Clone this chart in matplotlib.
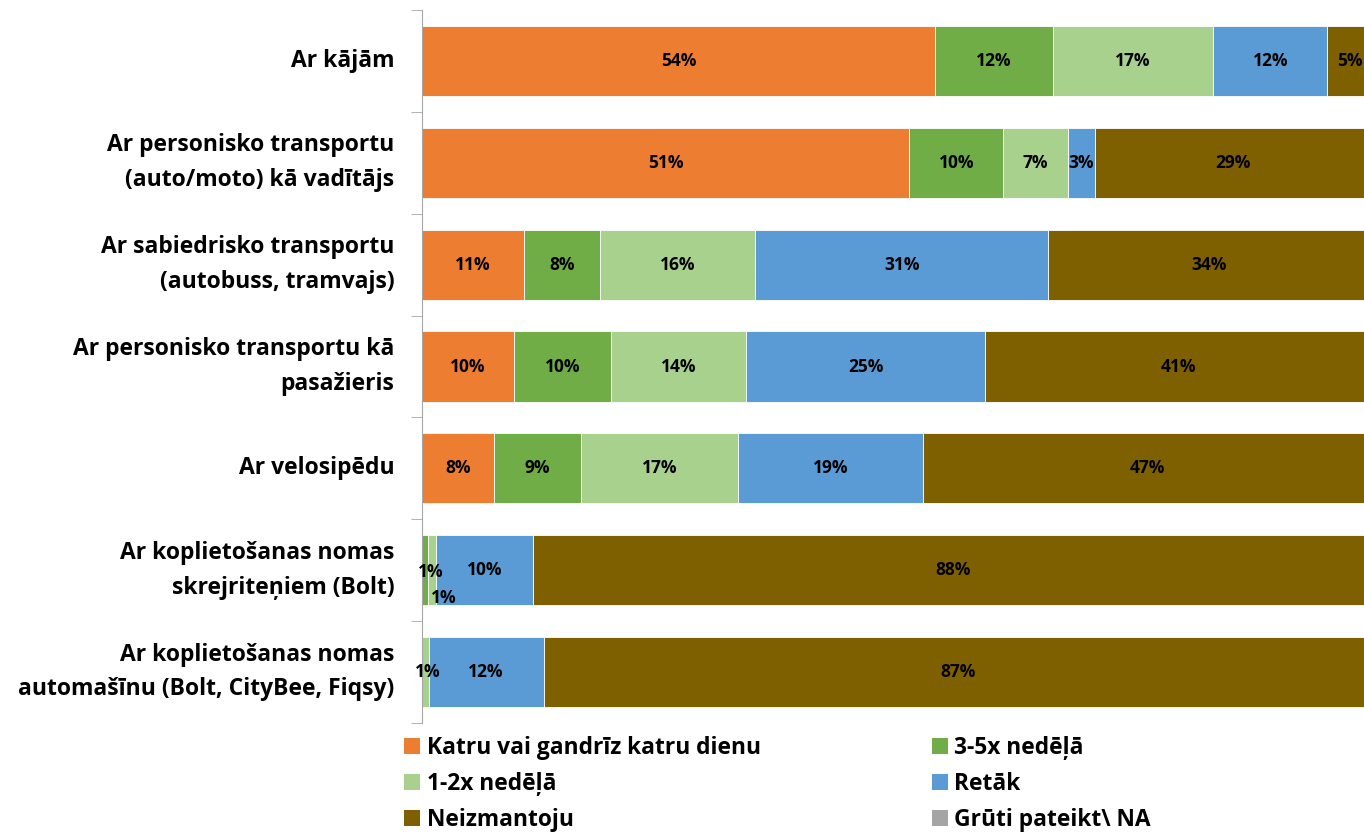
import numpy as np
import matplotlib
matplotlib.use("Agg")
from matplotlib import pyplot as plt
from matplotlib.patches import Patch

plt.rcParams['font.family'] = ['Open Sans', 'DejaVu Sans']
plt.rcParams['font.weight'] = 'bold'

categories = [
    "Ar kājām",
    "Ar personisko transportu\n(auto/moto) kā vadītājs",
    "Ar sabiedrisko transportu\n(autobuss, tramvajs)",
    "Ar personisko transportu kā\npasažieris",
    "Ar velosipēdu",
    "Ar koplietošanas nomas\nskrejriteņiem (Bolt)",
    "Ar koplietošanas nomas\nautomašīnu (Bolt, CityBee, Fiqsy)",
]
series_names = ["Katru vai gandrīz katru dienu", "3-5x nedēļā", "1-2x nedēļā",
                "Retāk", "Neizmantoju", "Grūti pateikt\\ NA"]
colors = ["#ED7D31", "#70AD47", "#A9D18E", "#5B9BD5", "#7F6000", "#A5A5A5"]

daily = [54.0, 51.3, 10.7, 9.7, 7.6, 0.0, 0.0]
x35 = [12.4, 9.9, 8.0, 10.2, 9.1, 0.6, 0.0]
x12 = [16.9, 6.8, 16.4, 14.2, 16.6, 0.9, 0.7]
rarely = [12.0, 2.8, 30.8, 25.2, 19.4, 10.2, 12.1]
never = [4.7, 29.2, 33.9, 40.7, 47.3, 88.3, 87.2]
na = [0, 0, 0, 0, 0, 0, 0]
data = [daily, x35, x12, rarely, never, na]

fig = plt.figure(figsize=(13.64, 8.32), dpi=100)
# bars run a little past the right edge of the picture, as in the original
ax = fig.add_axes([422 / 1364, 1 - 723 / 832, 950 / 1364, 713 / 832])

y = np.arange(len(categories))
left = np.zeros(len(categories))
for k, vals in enumerate(data):
    vals = np.array(vals, dtype=float)
    ax.barh(y, vals, left=left, height=0.69, color=colors[k], edgecolor='white',
            linewidth=0.6, label=series_names[k])
    for i, v in enumerate(vals):
        if v < 0.5:
            continue
        dy = 0.0
        dx = 0.0
        # the two tiny slices in the scooter row get pushed apart
        if i == 5 and k == 1:
            dy = 0.02
            dx = 0.6
        if i == 5 and k == 2:
            dy = 0.27
            dx = 1.2
        if i == 6 and k == 2:
            dx = 0.3
        ax.text(left[i] + v / 2 + dx, y[i] + dy, "%d%%" % round(v), ha='center',
                va='center', fontsize=12.5, fontweight='bold', color='black')
    left += vals

ax.set_xlim(0, 100)
ax.set_ylim(len(categories) - 0.5, -0.5)
ax.set_yticks(y)
ax.set_yticklabels(categories, fontsize=16.5, fontweight='bold', linespacing=1.6,
                   va='center')
ax.tick_params(axis='y', length=0, pad=20)
ax.set_yticks(np.arange(len(categories) + 1) - 0.5, minor=True)
ax.tick_params(axis='y', which='minor', length=8, color='#A6A6A6')
ax.set_xticks([])
for s in ['top', 'right', 'bottom']:
    ax.spines[s].set_visible(False)
ax.spines['left'].set_color('#A6A6A6')

handles = [Patch(facecolor=c) for c in colors]
order = [0, 2, 4, 1, 3, 5]
fig.legend([handles[i] for i in order], [series_names[i] for i in order],
           ncol=2, loc='upper left', bbox_to_anchor=(395 / 1364, 1 - 727 / 832),
           frameon=False, fontsize=16.4, handlelength=0.7, handleheight=0.7,
           handletextpad=0.3, columnspacing=7.5, labelspacing=0.53,
           borderaxespad=0)

fig.savefig("out.png", dpi=100)
